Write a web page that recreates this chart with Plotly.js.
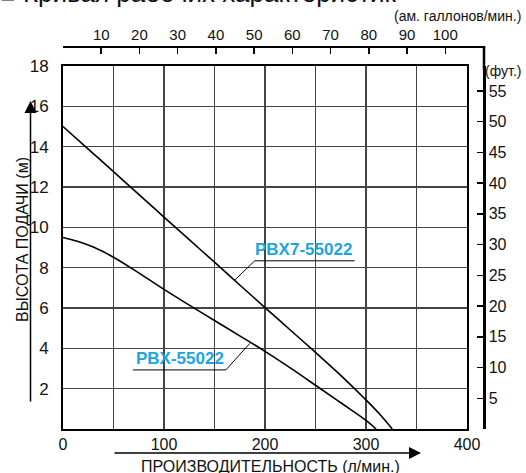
<!DOCTYPE html>
<html><head><meta charset="utf-8">
<script src="https://cdn.plot.ly/plotly-3.0.1.min.js"></script>
<style>html,body{margin:0;padding:0;background:#fff}#chart{width:526px;height:473px}</style>
</head><body><div id="chart"></div>
<script>
// ---- data ----
const seriesNames = ['PBX7-55022', 'PBX-55022'];
const pbx7Flow = [0, 25, 50, 75, 100, 125, 150, 175, 200, 225, 250, 275, 300, 315, 326];
const pbx7Head = [15.0, 13.88, 12.76, 11.63, 10.51, 9.39, 8.27, 7.14, 6.02, 4.91, 3.8, 2.66, 1.44, 0.66, 0];
const pbxFlow = [0, 15, 30, 50, 75, 100, 125, 150, 175, 200, 225, 250, 275, 300, 310];
const pbxHead = [9.5, 9.3, 9.02, 8.52, 7.74, 6.92, 6.14, 5.38, 4.62, 3.85, 3.03, 2.17, 1.3, 0.43, 0];
const xTickVals = [0, 50, 100, 150, 200, 250, 300, 350, 400];
const xTickText = ['0', '', '100', '', '200', '', '300', '', '400'];
const yTickVals = [0, 2, 4, 6, 8, 10, 12, 14, 16, 18];
const yTickText = ['', '2', '4', '6', '8', '10', '12', '14', '16', '18'];
const galTicks = [10, 20, 30, 40, 50, 60, 70, 80, 90, 100];
const ftTicks = [5, 10, 15, 20, 25, 30, 35, 40, 45, 50, 55];
const L_PER_GAL = 3.785;
const M_PER_FT = 0.3048;
const X_MAX = 400, Y_MAX = 18;

// ---- layout geometry ----
const W = 526, H = 473;
const M = {l: 63, r: 40, t: 40, b: 44};
const PW = W - M.l - M.r, PH = H - M.t - M.b;
const pxX = p => (p - M.l) / PW;
const pxY = p => (H - M.b - p) / PH;
const xd = pxX(467), yd = pxY(66);
const rightPos = pxX(484), topPos = pxY(47);

const FONT = 'Liberation Sans, Arial, Helvetica, sans-serif';
const LABEL_COLOR = '#1ba5e3';

const curveLine = {color: '#000', width: 1.6, shape: 'spline', smoothing: 1};
const traces = [
  {x: pbx7Flow, y: pbx7Head, name: seriesNames[0], mode: 'lines', line: curveLine, xaxis: 'x', yaxis: 'y', hoverinfo: 'skip'},
  {x: pbxFlow, y: pbxHead, name: seriesNames[1], mode: 'lines', line: curveLine, xaxis: 'x', yaxis: 'y', hoverinfo: 'skip'},
  {x: [], y: [], xaxis: 'x2', yaxis: 'y', showlegend: false, hoverinfo: 'skip'},
  {x: [], y: [], xaxis: 'x', yaxis: 'y2', showlegend: false, hoverinfo: 'skip'}
];

const gridC = '#444';
const layout = {
  width: W, height: H, margin: M, showlegend: false,
  paper_bgcolor: '#fff', plot_bgcolor: '#fff',
  font: {family: FONT, color: '#111', size: 16},
  xaxis: {domain: [0, xd], range: [0, X_MAX], tickvals: xTickVals, ticktext: xTickText,
    showgrid: true, gridcolor: gridC, gridwidth: 1.5, zeroline: false,
    showline: true, mirror: true, linecolor: '#000', linewidth: 2, ticks: '', tickfont: {size: 16}, fixedrange: true},
  yaxis: {domain: [0, yd], range: [0, Y_MAX], tickvals: yTickVals, ticktext: yTickText,
    showgrid: true, gridcolor: gridC, gridwidth: 1.5, zeroline: false,
    showline: true, mirror: true, linecolor: '#000', linewidth: 2, ticks: '', ticklabelstandoff: 9, tickfont: {size: 17}, fixedrange: true},
  xaxis2: {overlaying: 'x', side: 'top', anchor: 'free', position: topPos,
    range: [0, X_MAX / L_PER_GAL], tickvals: galTicks, ticks: 'inside', ticklen: 6, tickwidth: 1.5, tickcolor: '#000',
    showline: true, linecolor: '#000', linewidth: 2, showgrid: false, zeroline: false, tickfont: {size: 15}, fixedrange: true},
  yaxis2: {overlaying: 'y', side: 'right', anchor: 'free', position: rightPos,
    range: [0, Y_MAX / M_PER_FT], tickvals: ftTicks, ticks: 'inside', ticklen: 6, tickwidth: 1.5, tickcolor: '#000',
    showline: true, linecolor: '#000', linewidth: 2.5, showgrid: false, zeroline: false, tickfont: {size: 16}, fixedrange: true},
  shapes: [
    {type: 'line', xref: 'paper', yref: 'paper', x0: xd, x1: rightPos + 0.003, y0: topPos, y1: topPos, line: {color: '#000', width: 2}},
    {type: 'line', xref: 'paper', yref: 'paper', x0: rightPos, x1: rightPos, y0: yd - 0.01, y1: topPos, line: {color: '#000', width: 2.5}},
    // label underline + leader lines
    {type: 'line', xref: 'x', yref: 'y', x0: 189.8, x1: 288.8, y0: 8.34, y1: 8.34, line: {color: '#000', width: 1}},
    {type: 'line', xref: 'x', yref: 'y', x0: 189.8, x1: 170, y0: 8.34, y1: 7.38, line: {color: '#000', width: 1}},
    {type: 'line', xref: 'x', yref: 'y', x0: 69.2, x1: 161.3, y0: 2.93, y1: 2.93, line: {color: '#000', width: 1}},
    {type: 'line', xref: 'x', yref: 'y', x0: 161.3, x1: 185, y0: 2.93, y1: 4.25, line: {color: '#000', width: 1}}
  ],
  annotations: [
    {text: '■ Кривая рабочих характеристик', xref: 'paper', yref: 'paper', x: pxX(-2), y: pxY(10), xanchor: 'left', yanchor: 'bottom', showarrow: false, font: {size: 26, color: '#111'}},
    {text: '(ам. галлонов/мин.)', xref: 'paper', yref: 'paper', x: pxX(523), y: pxY(16), xanchor: 'right', yanchor: 'middle', showarrow: false, font: {size: 14}},
    {text: '(фут.)', xref: 'paper', yref: 'paper', x: pxX(483), y: pxY(71), xanchor: 'left', yanchor: 'middle', showarrow: false, font: {size: 14}},
    {text: '<b>' + seriesNames[0] + '</b>', xref: 'x', yref: 'y', x: 188.5, y: 8.34, xanchor: 'left', yanchor: 'bottom', showarrow: false, font: {size: 17, color: LABEL_COLOR}},
    {text: '<b>' + seriesNames[1] + '</b>', xref: 'x', yref: 'y', x: 70.5, y: 2.93, xanchor: 'left', yanchor: 'bottom', showarrow: false, font: {size: 17, color: LABEL_COLOR}},
    {text: 'ВЫСОТА ПОДАЧИ (м)', xref: 'paper', yref: 'paper', x: pxX(22), y: pxY(240), textangle: -90, xanchor: 'center', yanchor: 'middle', showarrow: false, font: {size: 16}},
    {text: 'ПРОИЗВОДИТЕЛЬНОСТЬ (л/мин.)', xref: 'paper', yref: 'paper', x: pxX(270), y: pxY(466), xanchor: 'center', yanchor: 'middle', showarrow: false, font: {size: 16}},
    {text: '', xref: 'paper', yref: 'paper', x: pxX(30.5), y: pxY(101), showarrow: true, axref: 'pixel', ayref: 'pixel', ax: 0, ay: 302, arrowhead: 2, arrowsize: 1.6, arrowwidth: 1.5, arrowcolor: '#000', standoff: 0, startstandoff: 0},
    {text: '', xref: 'paper', yref: 'paper', x: pxX(421), y: pxY(453), showarrow: true, axref: 'pixel', ayref: 'pixel', ax: -308, ay: 0, arrowhead: 2, arrowsize: 1.6, arrowwidth: 1.5, arrowcolor: '#000', standoff: 0, startstandoff: 0}
  ]
};

Plotly.newPlot('chart', traces, layout, {displayModeBar: false, staticPlot: true});
</script></body></html>
